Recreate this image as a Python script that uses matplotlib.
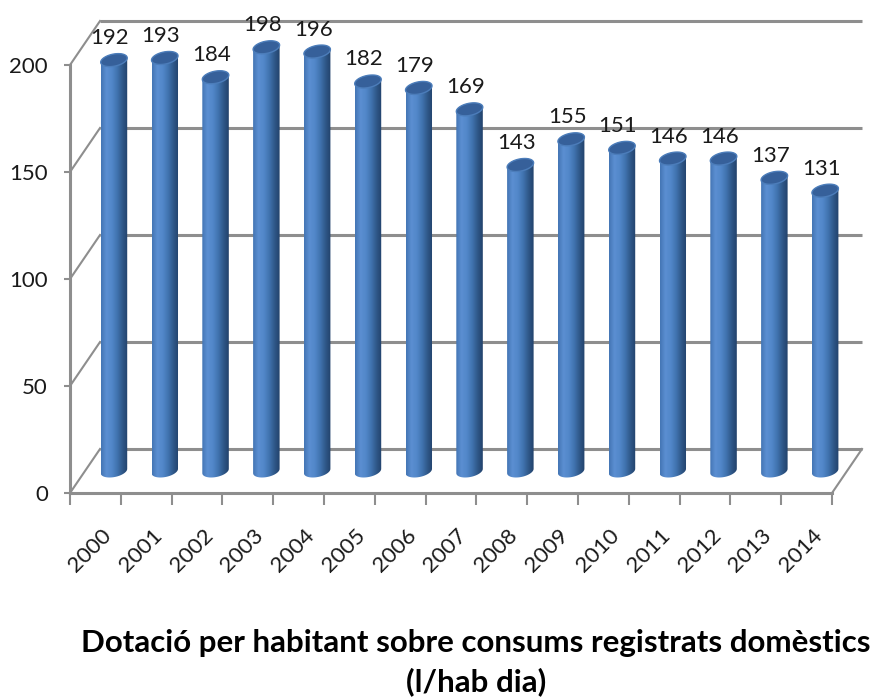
import numpy as np
import matplotlib
matplotlib.use('Agg')
import matplotlib.pyplot as plt
from matplotlib.path import Path
from matplotlib.patches import PathPatch, Polygon
from matplotlib.colors import LinearSegmentedColormap

years = ['2000', '2001', '2002', '2003', '2004', '2005', '2006', '2007',
         '2008', '2009', '2010', '2011', '2012', '2013', '2014']
values = [192, 193, 184, 198, 196, 182, 179, 169, 143, 155, 151, 146, 146, 137, 131]
y_ticks = [0, 50, 100, 150, 200]
title_line1 = 'Dotació per habitant sobre consums registrats domèstics'
title_line2 = '(l/hab dia)'

plt.rcParams['font.family'] = ['Lato', 'DejaVu Sans']

W, H = 880, 700
fig = plt.figure(figsize=(W / 100, H / 100), dpi=100)
ax = fig.add_axes([0, 0, 1, 1])

SX, SY = 50.8, 2.14          # pixels per category / per value unit
X0PX, Y0PX = 70, 493         # pixel position of the front origin
n = len(years)
ax.set_xlim(-0.5 - X0PX / SX, -0.5 + (W - X0PX) / SX)
ax.set_ylim(-(H - Y0PX) / SY, Y0PX / SY)
ax.set_facecolor('white')

DX, DY = 30 / SX, 44 / SY    # depth of the 3D box
grid_c = '#8e8e8e'
xl, xr = -0.5, n - 0.5
for v in y_ticks:
    ax.plot([xl + DX, xr + DX], [v + DY, v + DY], color=grid_c, lw=2.2, zorder=1,
            solid_capstyle='butt')
    ax.plot([xl, xl + DX], [v, v + DY], color=grid_c, lw=1.5, zorder=1)
ax.plot([xr, xr + DX], [0, DY], color=grid_c, lw=1.5, zorder=1)

# axes spines (front)
for s in ['top', 'right']:
    ax.spines[s].set_visible(False)
ax.spines['left'].set_position(('data', xl))
ax.spines['left'].set_bounds(0, 200)
ax.spines['bottom'].set_position(('data', 0))
ax.spines['bottom'].set_bounds(xl, xr)
for s in ['left', 'bottom']:
    ax.spines[s].set_color(grid_c)
    ax.spines[s].set_linewidth(2.2)
    ax.spines[s].set_zorder(2)

ax.set_yticks(y_ticks)
ax.set_yticklabels([str(v) for v in y_ticks])
ax.tick_params(axis='y', direction='out', length=4.5, width=1.5, color=grid_c,
               pad=11.5, labelsize=16, labelcolor='#1a1a1a')
ax.set_xticks(np.arange(n + 1) - 0.5)
ax.set_xticklabels([])
ax.tick_params(axis='x', which='major', direction='out', length=8.5, width=1.5, color=grid_c)
ax.set_xticks(np.arange(n) + 0.25, minor=True)
ax.set_xticklabels(years, minor=True)
ax.tick_params(axis='x', which='minor', length=0, pad=28, labelsize=16, labelcolor='#1a1a1a')
for lab in ax.get_xticklabels(minor=True):
    lab.set_rotation(45)
    lab.set_ha('right')
    lab.set_va('center')
    lab.set_rotation_mode('anchor')

# cylinders
cmap = LinearSegmentedColormap.from_list(
    'cyl', ['#4475B4', '#5B8FD2', '#5287C9', '#4174B0', '#2F5889', '#22426B'])
ux = 12.5 / SX
dxv, dyv = 4.4 / SX, 6.5 / SY
t0 = np.arctan2(4.4, 12.5)


def ellipse_pts(cx, cy, ts):
    return np.column_stack([cx + ux * np.cos(ts) + dxv * np.sin(ts),
                            cy + dyv * np.sin(ts)])


grad = np.linspace(0, 1, 128).reshape(1, -1)
for i, v in enumerate(values):
    cx = i + DX / 2 + 0.07
    cb = DY / 2
    ct = cb + v
    bottom = ellipse_pts(cx, cb, np.linspace(t0 + np.pi, t0 + 2 * np.pi, 40))
    top = ellipse_pts(cx, ct, np.linspace(t0, t0 + np.pi, 40))
    poly = np.vstack([bottom, top])
    patch = PathPatch(Path(np.vstack([poly, poly[:1]]), closed=True),
                      facecolor='none', edgecolor='none', zorder=3)
    ax.add_patch(patch)
    half = np.hypot(12.5, 4.4) / SX
    im = ax.imshow(grad, cmap=cmap, aspect='auto', interpolation='bilinear',
                   extent=[cx - half, cx + half, cb - 5, ct + 5], zorder=3)
    im.set_clip_path(patch)
    cap = ellipse_pts(cx, ct, np.linspace(0, 2 * np.pi, 60))
    ax.add_patch(Polygon(cap, closed=True, facecolor='#36609A', edgecolor='#4C7DBA',
                         lw=1.0, zorder=4))
    ax.text(cx - 4 / SX, ct + 7.5, str(v), ha='center', va='baseline',
            fontsize=16, color='#1a1a1a', zorder=5)

ax.set_xlim(-0.5 - X0PX / SX, -0.5 + (W - X0PX) / SX)
ax.set_ylim(-(H - Y0PX) / SY, Y0PX / SY)

fig.text(476 / W, 1 - 652 / H, title_line1, ha='center', va='baseline',
         fontsize=22.5, fontweight='bold', color='black')
fig.text(476 / W, 1 - 691 / H, title_line2, ha='center', va='baseline',
         fontsize=22.5, fontweight='bold', color='black')

fig.savefig('out.png', dpi=100, facecolor='white')
